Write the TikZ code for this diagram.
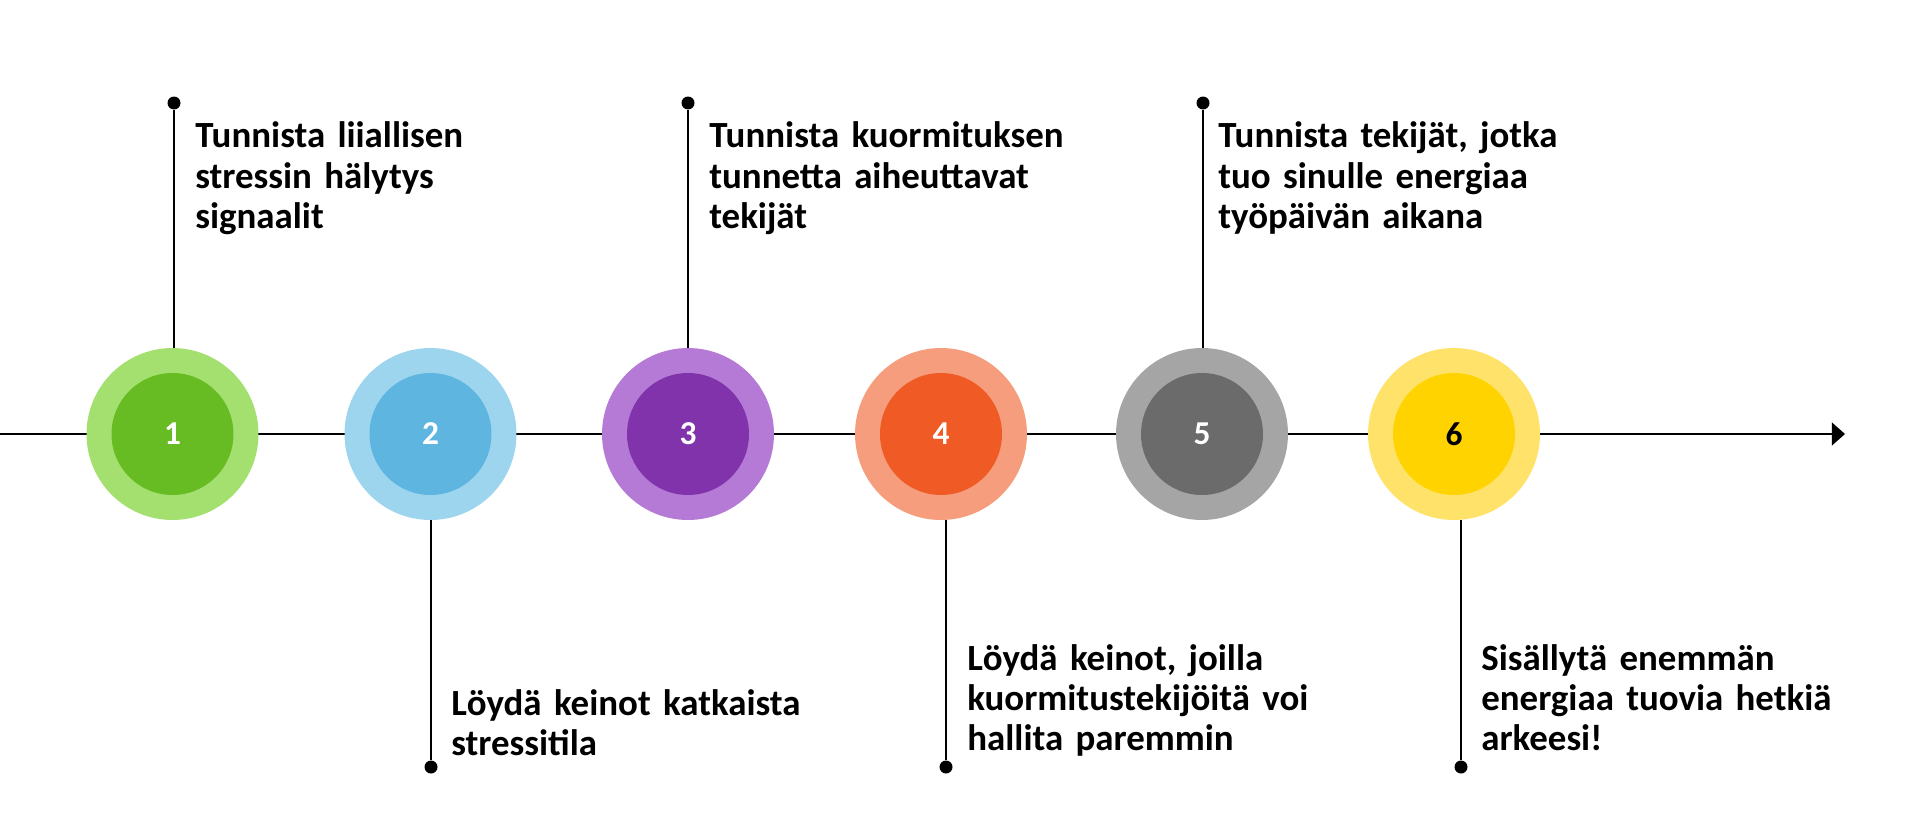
\documentclass[tikz,border=0pt]{standalone}
\usepackage{fontspec}
\setmainfont{Carlito}
\usetikzlibrary{arrows.meta}

\definecolor{greenL}{HTML}{A3E070}
\definecolor{greenD}{HTML}{67BB23}
\definecolor{blueL}{HTML}{9DD4EE}
\definecolor{blueD}{HTML}{5DB5E0}
\definecolor{purpleL}{HTML}{B47AD6}
\definecolor{purpleD}{HTML}{8033AB}
\definecolor{orangeL}{HTML}{F59D7C}
\definecolor{orangeD}{HTML}{EF5A25}
\definecolor{greyL}{HTML}{A5A5A5}
\definecolor{greyD}{HTML}{6B6B6B}
\definecolor{yellowL}{HTML}{FFE26A}
\definecolor{yellowD}{HTML}{FFD300}

\begin{document}
\begin{tikzpicture}[x=0.02cm,y=-0.02cm,
    dot/.style={circle,fill=black,inner sep=0pt,minimum size=0.26cm},
    ring/.style={circle,inner sep=0pt,minimum size=3.44cm},
    core/.style={circle,inner sep=0pt,minimum size=2.44cm,font=\bfseries\fontsize{19}{19}\selectfont},
    leader/.style={line width=1.1pt},
    stepnote/.style={anchor=base west,inner sep=0pt,text width=9cm,align=left,
      font=\bfseries\fontsize{21}{22.8}\selectfont}]
  \useasboundingbox (0,0) rectangle (1920,821);
  % time line
  \coordinate (start) at (0,434);
  \coordinate (stop) at (1845,434);
  \draw[leader,-{Triangle[length=7.5pt,width=13pt]}] (start) -- (stop);
  % the six steps
  \foreach \n/\x/\outer/\inner/\num in {1/172.5/greenL/greenD/white,2/430.5/blueL/blueD/white,
      3/688/purpleL/purpleD/white,4/941/orangeL/orangeD/white,5/1202/greyL/greyD/white,
      6/1454/yellowL/yellowD/black}{
    \node[ring,fill=\outer] (o\n) at (\x,434) {};
    \node[core,fill=\inner,text=\num] (c\n) at (o\n) {\n};
  }
  % leaders and dots
  \node[dot] (t1) at (174,103) {};
  \node[dot] (t3) at (688,103) {};
  \node[dot] (t5) at (1203,103) {};
  \node[dot] (b2) at (431,767) {};
  \node[dot] (b4) at (946,767) {};
  \node[dot] (b6) at (1461,767) {};
  \draw[leader] (t1) -- (t1 |- o1.north);
  \draw[leader] (t3) -- (t3 |- o3.north);
  \draw[leader] (t5) -- (t5 |- o5.north);
  \draw[leader] (b2) -- (b2 |- o2.south);
  \draw[leader] (b4) -- (b4 |- o4.south);
  \draw[leader] (b6) -- (b6 |- o6.south);
  % texts
  \node[stepnote] (n1) at (195,148) {Tunnista liiallisen\\stressin hälytys\\signaalit};
  \node[stepnote] (n2) at (451,715) {Löydä keinot katkaista\\stressitila};
  \node[stepnote] (n3) at (709,148) {Tunnista kuormituksen\\tunnetta aiheuttavat\\tekijät};
  \node[stepnote] (n4) at (967,670) {Löydä keinot, joilla\\kuormitustekijöitä voi\\hallita paremmin};
  \node[stepnote] (n5) at (1218,148) {Tunnista tekijät, jotka\\tuo sinulle energiaa\\työpäivän aikana};
  \node[stepnote] (n6) at (1481,670) {Sisällytä enemmän\\energiaa tuovia hetkiä\\arkeesi!};
\end{tikzpicture}
\end{document}
